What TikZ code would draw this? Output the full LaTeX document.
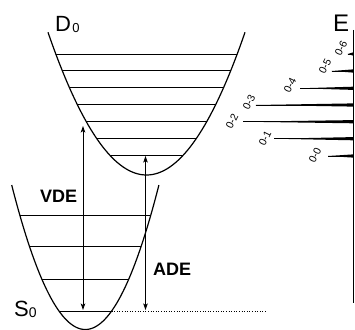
\documentclass[tikz,border=0pt]{standalone}
\usepackage{fontspec}
\setmainfont{Liberation Sans}
\usetikzlibrary{arrows.meta}
\tikzset{
  curve/.style={line width=1.2pt},
  level/.style={line width=0.9pt},
  energy/.style={line width=0.9pt,{Stealth[length=6.5pt,width=4.5pt,inset=1.5pt]}-{Stealth[length=6.5pt,width=4.5pt,inset=1.5pt]}},
  peaklabel/.style={rotate=64,inner sep=0pt,font=\fontsize{10.5}{10.5}\selectfont},
  biglabel/.style={anchor=base west,inner sep=0pt},
}
\begin{document}
\begin{tikzpicture}[x=1pt,y=-1pt]
\useasboundingbox (0,0) rectangle (355,329);
% D0 potential
\draw[curve] plot[domain=-98.5:98.5,samples=80] ({146.5+\x},{175-\x*\x/68});
\foreach \yy in {54.3,70,87.7,104.3,121,138.3,155}{
  \pgfmathsetmacro\hw{sqrt((175-\yy)*68)}
  \draw[level] ({146.5-\hw},\yy) -- ({146.5+\hw},\yy);
}
% S0 potential
\draw[curve] plot[domain=-73.6:73.6,samples=80] ({85.3+\x},{329.5-\x*\x/37.5});
\foreach \yy in {215,246.7,279,311}{
  \pgfmathsetmacro\hw{sqrt((329.5-\yy)*37.5)}
  \draw[level] ({85.3-\hw},\yy) -- ({85.3+\hw},\yy);
}
\coordinate (dotA) at (111.6,311);
\coordinate (dotB) at (267,311);
\draw[dotted,line width=0.6pt] (dotA) -- (dotB);
% arrows
\coordinate (vdeT) at (83,126);
\coordinate (vdeB) at (83,310);
\coordinate (adeT) at (145.5,156);
\coordinate (adeB) at (145.5,310);
\draw[energy] (vdeT) -- (vdeB);
\draw[energy] (adeT) -- (adeB);
% labels
\node[biglabel] (d0) at (55,31) {\fontsize{22}{22}\selectfont D\kern1.2pt\raisebox{-1.6pt}{\fontsize{13}{13}\selectfont 0}};
\node[biglabel] (s0) at (14,316) {\fontsize{22}{22}\selectfont S\raisebox{-1.5pt}{\fontsize{14}{14}\selectfont 0}};
\node[biglabel] (vde) at (40,202.7) {\bfseries\fontsize{18}{18}\selectfont VDE};
\node[biglabel] (ade) at (153,275) {\bfseries\fontsize{18}{18}\selectfont ADE};
\node[biglabel] (e) at (333,32) {\fontsize{24}{24}\selectfont E};
% spectrum axis
\coordinate (axT) at (353,30);
\coordinate (axB) at (353,303);
\draw[line width=1pt] (axT) -- (axB);
% peaks
\foreach \lx/\yy in {328/156,274/138.7,243/121.7,255.7/105,300/88.3,331.7/71,347.7/54}{
  \fill (\lx,\yy) -- (353,\yy-1.6) -- (353,\yy+1.6) -- cycle;
  \draw[line width=0.8pt] (\lx,\yy) -- (353,\yy);
}
% peak labels
\node[peaklabel] (p0) at (315,155) {0-0};
\node[peaklabel] (p1) at (265,138) {0-1};
\node[peaklabel] (p2) at (232,121) {0-2};
\node[peaklabel] (p3) at (249,102) {0-3};
\node[peaklabel] (p4) at (290,85) {0-4};
\node[peaklabel] (p5) at (325,66) {0-5};
\node[peaklabel] (p6) at (341,48) {0-6};
\end{tikzpicture}
\end{document}
